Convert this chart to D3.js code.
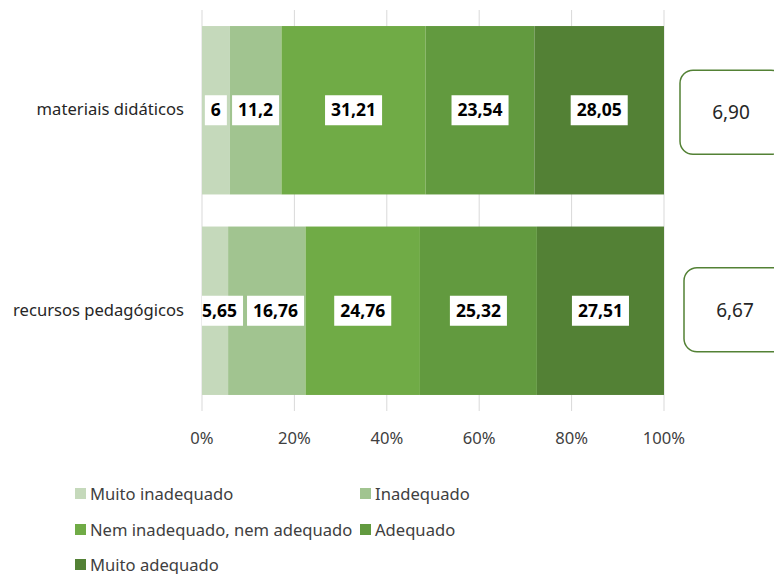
<!DOCTYPE html>
<html><head><meta charset="utf-8">
<script src="https://cdn.jsdelivr.net/npm/d3@7"></script>
<style>body{margin:0;background:#fff}svg{display:block}text{font-family:"Noto Sans",sans-serif}</style>
</head><body><svg id="c" width="774" height="574"></svg>
<script>
const categories = ["materiais didáticos", "recursos pedagógicos"];
const seriesNames = ["Muito inadequado", "Inadequado", "Nem inadequado, nem adequado", "Adequado", "Muito adequado"];
const muitoInadequado = [6, 5.65];
const inadequado = [11.2, 16.76];
const nemNem = [31.21, 24.76];
const adequado = [23.54, 25.32];
const muitoAdequado = [28.05, 27.51];
const averages = [6.90, 6.67];
const tickValues = [0, 20, 40, 60, 80, 100];
const colors = ["#c5d9bb", "#a1c490", "#70ab46", "#629a3f", "#538135"];

const seriesVals = [muitoInadequado, inadequado, nemNem, adequado, muitoAdequado];
const fmt = v => String(v).replace(".", ",");
const FS = 16.6;
const svg = d3.select("#c");
const x = d3.scaleLinear().domain([0, 100]).range([202, 664]);
const y = d3.scaleBand().domain(categories).range([10, 411]).paddingInner(0.16).paddingOuter(0.08);

svg.append("defs").append("clipPath").attr("id", "plotclip")
  .append("rect").attr("x", x(0)).attr("y", 0).attr("width", 774 - x(0)).attr("height", 574);

// grid
svg.append("g").selectAll("line").data(tickValues).join("line")
  .attr("x1", d => x(d)).attr("x2", d => x(d)).attr("y1", 10).attr("y2", 411)
  .attr("stroke", "#d9d9d9").attr("stroke-width", 1);

// axis labels
svg.append("g").selectAll("text").data(tickValues).join("text")
  .attr("x", d => x(d)).attr("y", 444).attr("text-anchor", "middle")
  .attr("font-size", FS).attr("fill", "#404040").text(d => d + "%");

// category labels
svg.append("g").selectAll("text").data(categories).join("text")
  .attr("x", 184).attr("y", d => y(d) + y.bandwidth() / 2 + 5).attr("text-anchor", "end")
  .attr("font-size", FS).attr("fill", "#262626").text(d => d);

// stacks
const rows = categories.map((c, i) => {
  let acc = 0;
  return seriesVals.map((s, k) => { const r = { c, k, v: s[i], x0: acc, x1: acc + s[i] }; acc += s[i]; return r; });
});
const segs = rows.flat();
svg.append("g").selectAll("rect").data(segs).join("rect")
  .attr("x", d => x(d.x0)).attr("width", d => x(d.x1) - x(d.x0))
  .attr("y", d => y(d.c)).attr("height", y.bandwidth())
  .attr("fill", d => colors[d.k]);

// data labels with white boxes, overlap avoidance
const lg = svg.append("g");
rows.forEach(row => {
  let prevRight = -Infinity;
  row.forEach(d => {
    const cy = y(d.c) + y.bandwidth() / 2;
    const g = lg.append("g");
    const t = g.append("text").attr("font-size", 17.5).attr("font-weight", "bold").attr("fill", "#000")
      .attr("text-anchor", "middle").text(fmt(d.v));
    const w = t.node().getComputedTextLength() + 12;
    let cx = x((d.x0 + d.x1) / 2);
    let left = cx - w / 2;
    if (left < x(0) - 6) left = x(0) - 6;
    if (left < prevRight + 4) left = prevRight + 4;
    cx = left + w / 2;
    prevRight = left + w;
    g.insert("rect", "text").attr("x", left).attr("y", cy - 15).attr("width", w).attr("height", 30)
      .attr("fill", "#fff").attr("clip-path", "url(#plotclip)");
    t.attr("x", cx).attr("y", cy + 6);
  });
});

// average boxes
const ag = svg.append("g");
categories.forEach((c, i) => {
  const cy = y(c) + y.bandwidth() / 2 + (i === 0 ? 2 : -1);
  const bx = i === 0 ? 680 : 684;
  ag.append("rect").attr("x", bx).attr("y", cy - 42).attr("width", 104).attr("height", 84)
    .attr("rx", 13).attr("fill", "#fff").attr("stroke", "#538135").attr("stroke-width", 1.5);
  ag.append("text").attr("x", bx + 51).attr("y", cy + 7).attr("text-anchor", "middle")
    .attr("font-size", 19).attr("fill", "#262626").text(averages[i].toFixed(2).replace(".", ","));
});

// legend
const legPos = [[75, 494], [360, 494], [75, 530], [360, 530], [75, 565]];
const leg = svg.append("g").selectAll("g").data(seriesNames).join("g")
  .attr("transform", (d, i) => `translate(${legPos[i][0]},${legPos[i][1]})`);
leg.append("rect").attr("x", 0).attr("y", -6).attr("width", 11).attr("height", 11).attr("fill", (d, i) => colors[i]);
leg.append("text").attr("x", 15).attr("y", 5.5).attr("font-size", FS).attr("fill", "#404040").text(d => d);
</script></body></html>
